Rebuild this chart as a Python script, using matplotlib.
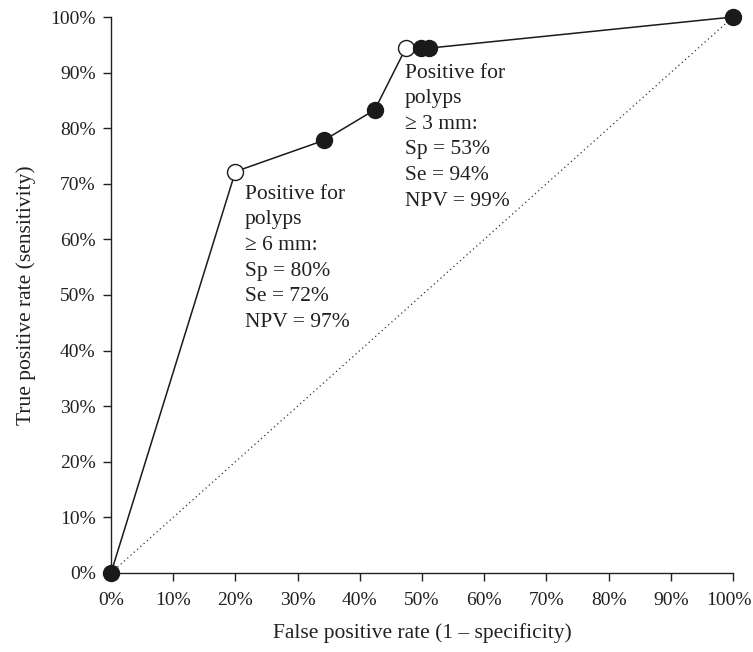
import matplotlib.pyplot as plt
from matplotlib.ticker import FuncFormatter
from matplotlib.transforms import ScaledTranslation

plt.rcParams['font.family'] = ['Liberation Serif', 'DejaVu Serif']

# Pontos da curva ROC (em %)
fpr = [0, 20.0, 34.2, 42.4, 47.4, 49.8, 51.1, 100]
tpr = [0, 72.2, 77.8, 83.3, 94.4, 94.4, 94.4, 100]
abertos = [False, True, False, False, True, False, False, False]

texto_6mm = "Positive for\npolyps\n\u2265 6 mm:\nSp = 80%\nSe = 72%\nNPV = 97%"
texto_3mm = "Positive for\npolyps\n\u2265 3 mm:\nSp = 53%\nSe = 94%\nNPV = 99%"

fig = plt.figure(figsize=(7.53, 6.52), dpi=100)
ax = fig.add_axes([0.1474, 0.1212, 0.826, 0.8527])

# diagonal de referência
ax.plot([0, 100], [0, 100], linestyle=(0, (1, 2.5)), color='#333333', linewidth=0.9)
ax.plot(fpr, tpr, color='#1a1a1a', linewidth=1.1, zorder=2)

for x, y, aberto in zip(fpr, tpr, abertos):
    ax.plot(x, y, 'o', markersize=11.5, markeredgewidth=1.0,
            markeredgecolor='#1a1a1a',
            markerfacecolor='white' if aberto else '#1a1a1a',
            clip_on=False, zorder=3)

ax.text(21.5, 69.8, texto_6mm, fontsize=15.5, va='top', ha='left',
        linespacing=1.47, color='#231f20')
ax.text(47.2, 91.6, texto_3mm, fontsize=15.5, va='top', ha='left',
        linespacing=1.47, color='#231f20')

ax.set_xlim(0, 100)
ax.set_ylim(0, 100)
ax.set_xticks(range(0, 101, 10))
ax.set_yticks(range(0, 101, 10))
fmt = FuncFormatter(lambda v, p: f"{int(v)}%")
ax.xaxis.set_major_formatter(fmt)
ax.yaxis.set_major_formatter(fmt)
ax.tick_params(direction='out', length=6, width=1, labelsize=14,
               colors='#231f20')
ax.tick_params(axis='x', pad=8)
ax.tick_params(axis='y', pad=5)

# empurra um pouco o rótulo "100%" para dentro da figura
ultimo = ax.get_xticklabels()[-1]
ultimo.set_transform(ultimo.get_transform() + ScaledTranslation(-3 / 72, 0, fig.dpi_scale_trans))

for lado in ['top', 'right']:
    ax.spines[lado].set_visible(False)
for lado in ['left', 'bottom']:
    ax.spines[lado].set_linewidth(1.0)
    ax.spines[lado].set_color('#231f20')

ax.set_xlabel("False positive rate (1 \u2013 specificity)", fontsize=15.5,
              labelpad=10, color='#231f20')
ax.set_ylabel("True positive rate (sensitivity)", fontsize=15.5,
              labelpad=10, color='#231f20')

fig.savefig("out.png", dpi=100)
